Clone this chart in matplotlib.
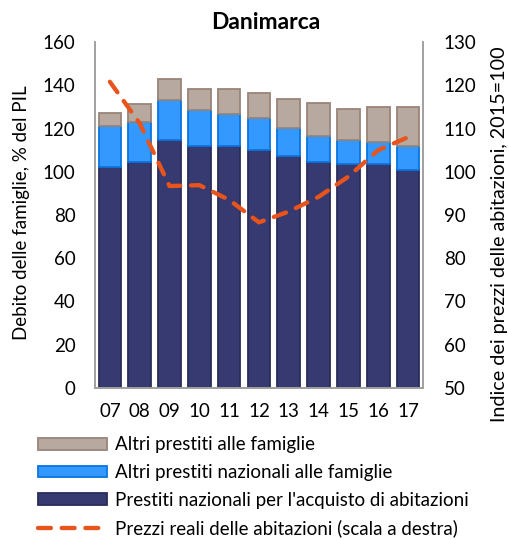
import numpy as np
import matplotlib
matplotlib.use("Agg")
import matplotlib.pyplot as plt
from matplotlib.patches import Patch
from matplotlib.lines import Line2D

plt.rcParams['font.family'] = ['Lato', 'DejaVu Sans']

# dati
anni = ["07", "08", "09", "10", "11", "12", "13", "14", "15", "16", "17"]
abitazioni = [102.0, 104.7, 114.8, 112.1, 112.1, 110.2, 107.4, 104.7, 103.7, 103.7, 100.9]
altri_nazionali = [19.3, 18.5, 18.5, 16.6, 14.7, 14.8, 13.0, 12.0, 11.1, 10.2, 11.2]
altri = [6.0, 8.0, 9.6, 9.6, 11.5, 11.6, 13.2, 15.1, 14.2, 16.0, 17.8]
prezzi = [120.8, 111.2, 96.7, 96.9, 93.5, 88.3, 90.8, 94.2, 98.9, 105.0, 108.0]

c_navy = "#363A70"
c_navy_e = "#2A2D5A"
c_blue = "#3399FF"
c_blue_e = "#0A74E0"
c_grey = "#B8A9A0"
c_grey_e = "#9A8478"
c_orange = "#E8541C"
trattini = (3.0, 2.5)

fig = plt.figure(figsize=(5.09, 5.40), dpi=100)
ax = fig.add_axes([0.1866, 0.2815, 0.6444, 0.6407])
x = np.arange(len(anni))
w = 0.76

b1 = np.array(abitazioni)
b2 = b1 + np.array(altri_nazionali)
ax.bar(x, abitazioni, w, color=c_navy, edgecolor=c_navy_e, linewidth=1.3, zorder=2)
ax.bar(x, altri_nazionali, w, bottom=b1, color=c_blue, edgecolor=c_blue_e, linewidth=1.3, zorder=2)
ax.bar(x, altri, w, bottom=b2, color=c_grey, edgecolor=c_grey_e, linewidth=1.3, zorder=2)

ax.set_xlim(-0.5, len(anni) - 0.5)
ax.set_ylim(0, 160)
ax.set_yticks(range(0, 161, 20))
ax.set_xticks(x)
ax.set_xticklabels(anni)
ax.tick_params(axis='y', length=0, labelsize=13.5, pad=14)
ax.tick_params(axis='x', length=0, labelsize=13.5, pad=11)

ax2 = ax.twinx()
ax2.plot(x, prezzi, color=c_orange, linewidth=3.1, dashes=trattini, dash_capstyle='round', zorder=3)
ax2.set_ylim(50, 130)
ax2.set_yticks(range(50, 131, 10))
ax2.tick_params(length=0, labelsize=13.5, pad=15)

for a in (ax, ax2):
    a.spines['top'].set_visible(False)
    for s in ('left', 'right', 'bottom'):
        a.spines[s].set_color("#A0A0A0")
        a.spines[s].set_linewidth(1.2)

fig.text(0.0432, 0.6056, "Debito delle famiglie, % del PIL", rotation=90,
         ha='center', va='center', fontsize=13.5)
fig.text(0.982, 0.5667, "Indice dei prezzi delle abitazioni, 2015=100", rotation=90,
         ha='center', va='center', fontsize=14.2)
fig.text(0.5226, 0.959, "Danimarca", ha='center', va='center', fontsize=16.5, fontweight='bold')

handles = [
    Patch(facecolor=c_grey, edgecolor=c_grey_e, linewidth=1.3),
    Patch(facecolor=c_blue, edgecolor=c_blue_e, linewidth=1.3),
    Patch(facecolor=c_navy, edgecolor=c_navy_e, linewidth=1.3),
    Line2D([0], [0], color=c_orange, linewidth=3.1, dashes=trattini, dash_capstyle='round'),
]
labels = [
    "Altri prestiti alle famiglie",
    "Altri prestiti nazionali alle famiglie",
    "Prestiti nazionali per l'acquisto di abitazioni",
    "Prezzi reali delle abitazioni (scala a destra)",
]
fig.legend(handles, labels, loc='upper left', bbox_to_anchor=(0.06, 0.2056),
           frameon=False, fontsize=13.5, handlelength=3.68, handleheight=0.58,
           labelspacing=0.57, handletextpad=0.43, borderaxespad=0)

fig.savefig("out.png", dpi=100)
